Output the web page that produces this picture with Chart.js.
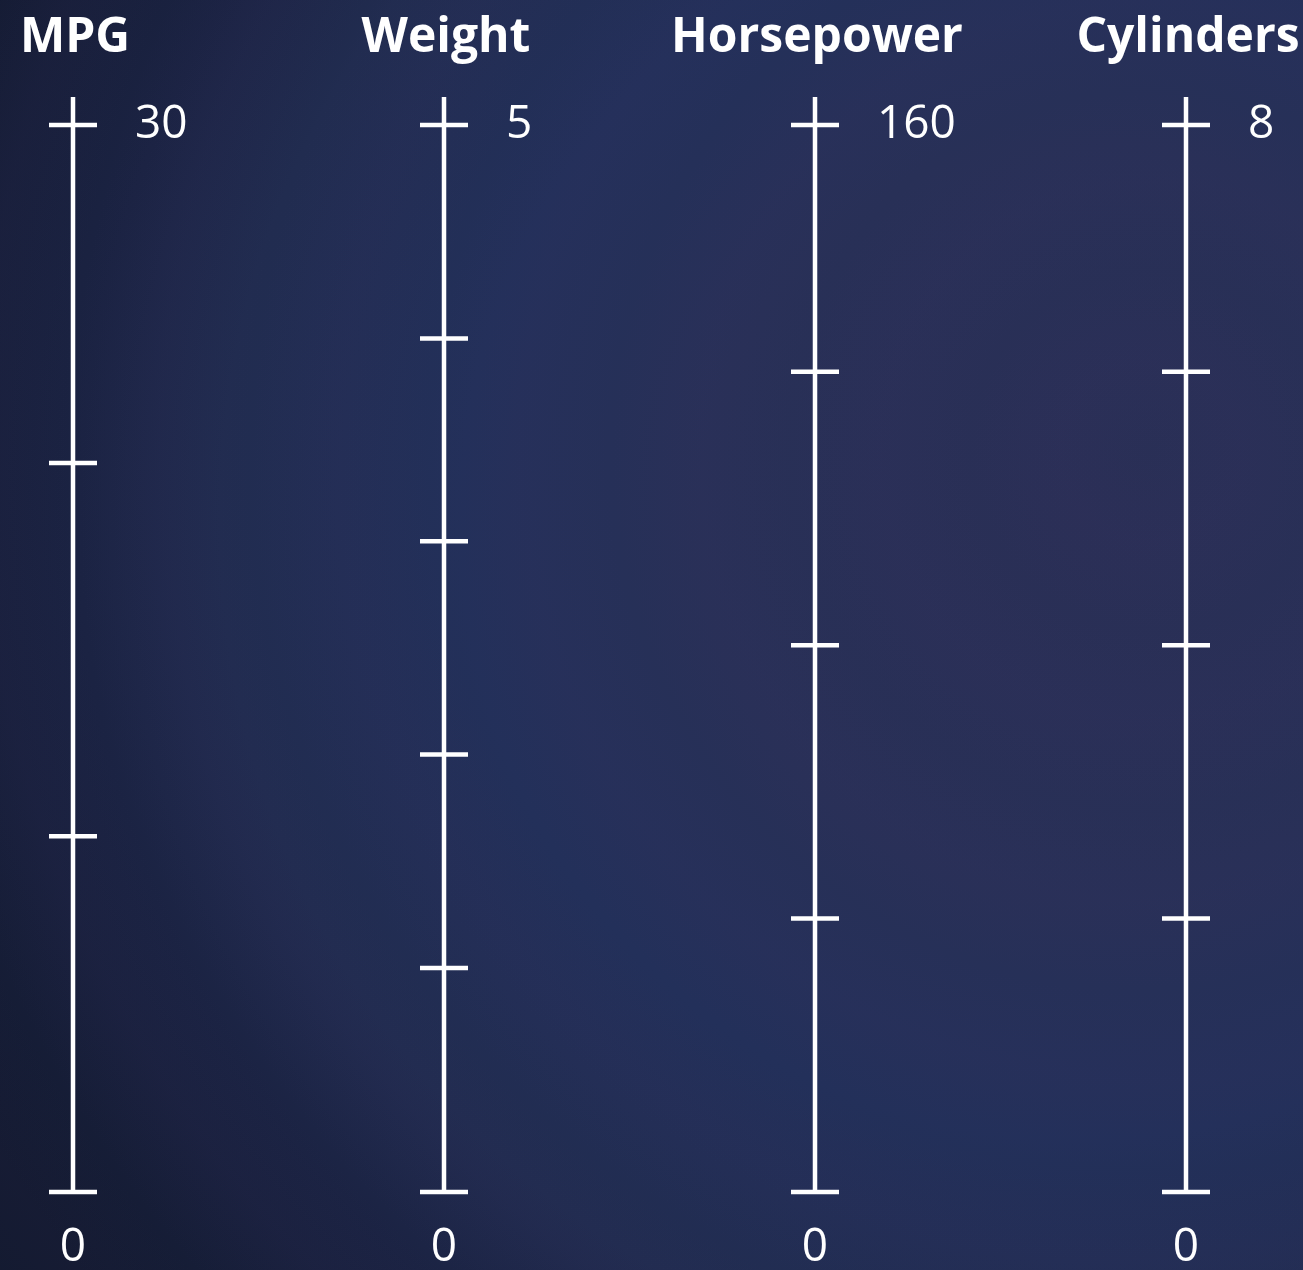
<!DOCTYPE html>
<html>
<head>
<meta charset="utf-8">
<script src="https://cdn.jsdelivr.net/npm/chart.js@4"></script>
<style>
  html, body {
    margin: 0;
    padding: 0;
    width: 1303px;
    height: 1270px;
    overflow: hidden;
  }
  body {
    background:
      repeating-radial-gradient(circle at 1150px 450px,
        rgba(70, 50, 110, 0.00) 0px,
        rgba(70, 50, 110, 0.06) 90px,
        rgba(70, 50, 110, 0.00) 180px),
      radial-gradient(circle at 1080px 520px,
        #2a2f56 0px,
        #283057 380px,
        #23305a 620px,
        #212c50 860px,
        #1b2343 1000px,
        #131a30 1250px);
  }
  #chart { display: block; }
</style>
</head>
<body>
<canvas id="chart" width="1303" height="1270"></canvas>
<script>

// dimensions of the parallel axes
const dimensions = ["MPG", "Weight", "Horsepower", "Cylinders"];

const axisMin = [0, 0, 0, 0];
const axisMax = [30, 5, 160, 8];

// tick marks
const mpgTicks = [0, 10, 20.5, 30];
const weightTicks = [0, 1.05, 2.05, 3.05, 4, 5];
const horsepowerTicks = [0, 41, 82, 123, 160];
const cylinderTicks = [0, 2.05, 4.1, 6.15, 8];

const axisTicks = [mpgTicks, weightTicks, horsepowerTicks, cylinderTicks];

// only the ends carry labels
const topLabels = ["30", "5", "160", "8"];
const bottomLabels = ["0", "0", "0", "0"];

const axisStyle = {
  color: "#ffffff",
  width: 4.5,
  tickHalf: 24,
  overshoot: 28
};

const parallelAxes = {

  id: "parallelAxes",

  afterDraw(chart) {

    const ctx = chart.ctx;
    const xScale = chart.scales.x;

    ctx.save();

    ctx.strokeStyle = axisStyle.color;
    ctx.fillStyle = axisStyle.color;
    ctx.lineWidth = axisStyle.width;
    ctx.lineCap = "butt";

    dimensions.forEach((name, i) => {

      const yScale = chart.scales["y" + i];

      const x = xScale.getPixelForValue(i);

      const yTop = yScale.getPixelForValue(axisMax[i]);
      const yBottom = yScale.getPixelForValue(axisMin[i]);

      // axis line
      ctx.beginPath();
      ctx.moveTo(x, yTop - axisStyle.overshoot);
      ctx.lineTo(x, yBottom);
      ctx.stroke();

      // tick marks across the axis
      axisTicks[i].forEach(v => {

        const y = yScale.getPixelForValue(v);

        ctx.beginPath();
        ctx.moveTo(x - axisStyle.tickHalf, y);
        ctx.lineTo(x + axisStyle.tickHalf, y);
        ctx.stroke();

      });

      // title
      ctx.font = "bold 48px 'Open Sans'";
      ctx.textAlign = "center";
      ctx.textBaseline = "alphabetic";
      ctx.fillText(name, x + 2, yTop - 73);

      // max label to the right of the top tick
      ctx.font = "46px 'Open Sans'";
      ctx.textAlign = "left";
      ctx.fillText(topLabels[i], x + 62, yTop + 13);

      // min label under the axis
      ctx.textAlign = "center";
      ctx.fillText(bottomLabels[i], x, yBottom + 69);

    });

    ctx.restore();

  }

};

const yScales = {};

dimensions.forEach((name, i) => {

  yScales["y" + i] = {
    axis: "y",
    type: "linear",
    min: axisMin[i],
    max: axisMax[i],
    display: false
  };

});

new Chart(

  document.getElementById("chart"),

  {

    type: "line",

    data: {
      labels: dimensions,
      datasets: []
    },

    options: {

      responsive: false,
      animation: false,
      devicePixelRatio: 1,

      layout: {
        padding: { left: 73, right: 117, top: 125, bottom: 78 }
      },

      plugins: {
        legend: { display: false },
        tooltip: { enabled: false }
      },

      scales: Object.assign({

        x: {
          type: "linear",
          min: 0,
          max: dimensions.length - 1,
          display: false
        }

      }, yScales)

    },

    plugins: [parallelAxes]

  }

);

</script>
</body>
</html>
